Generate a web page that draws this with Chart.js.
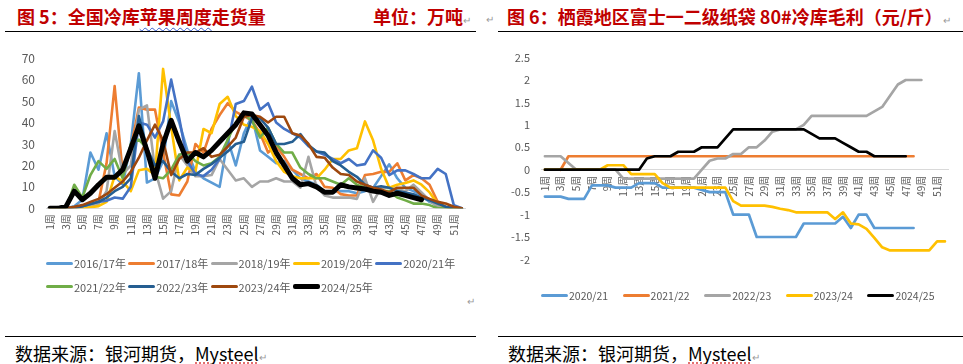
<!DOCTYPE html>
<html>
<head>
<meta charset="utf-8">
<script src="https://cdn.jsdelivr.net/npm/chart.js@4.4.1/dist/chart.umd.min.js"></script>
<style>
  body { margin:0; width:963px; height:364px; background:#fff; position:relative; overflow:hidden;
         font-family:"Noto Sans CJK SC", "Noto Sans", sans-serif; }
  .t { position:absolute; white-space:nowrap; line-height:18px; }
  .title { color:#c00000; font-weight:bold; font-size:18px; top:7px; }
  .src { font-size:18px; color:#000; top:344px; }
  .rule { position:absolute; height:1px; background:#000; }
  .mark { color:#9a9a9a; font-size:10px; font-weight:normal; }
  .wavy { text-decoration: underline wavy #3a5fd0; text-decoration-thickness:1px; text-underline-offset:3px; }
  .dots { text-decoration: underline dotted #e06060; text-underline-offset:2px; }
  .lg-line { position:absolute; }
  .lg-text { position:absolute; white-space:nowrap; color:#595959; line-height:14px; }
  canvas { position:absolute; }
</style>
</head>
<body>

<div class="t title" style="left:17px">图 5：全国冷库<span class="wavy">苹果周度</span>走货量</div>
<div class="t title" style="left:373px">单位：万吨<span class="mark">↵</span></div>
<div class="rule" style="left:5px; top:31px; width:471px"></div>

<div class="t mark" style="left:486px; top:10px">↵</div>
<div class="t title" style="left:507px">图 6：栖霞地区富士一二级纸袋 80#冷库毛利（元/斤）<span class="mark">↵</span></div>
<div class="rule" style="left:498px; top:31px; width:465px"></div>

<canvas id="volumeChart" width="480" height="202" style="left:0; top:40px"></canvas>
<canvas id="marginChart" width="483" height="237" style="left:480px; top:40px"></canvas>

<div class="t mark" style="left:467px; top:292px">↵</div>
<div class="rule" style="left:5px; top:336px; width:471px"></div>
<div class="rule" style="left:498px; top:336px; width:465px"></div>
<div class="t src" style="left:15px">数据来源：银河期货，<span class="dots">Mysteel</span><span class="mark">↵</span></div>
<div class="t src" style="left:508px">数据来源：银河期货，<span class="dots">Mysteel</span><span class="mark">↵</span></div>

<script>
// week categories 1周 .. 52周
const weeks = [];
for (let i = 1; i <= 52; i++) weeks.push(i + '周');

// ---- Chart 5: weekly cold-storage apple shipments (万吨) ----
const volumeNames = ['2016/17年', '2017/18年', '2018/19年', '2019/20年', '2020/21年',
                     '2021/22年', '2022/23年', '2023/24年', '2024/25年'];
const volumeColors = ['#5B9BD5', '#ED7D31', '#A5A5A5', '#FFC000', '#4472C4',
                      '#70AD47', '#255E91', '#9E480E', '#000000'];

const v1617 = [0,0,0,1,4,26,18,35,15,11,30,63,12,14,22,50,40,27,17,14,12,10,32,20,35,43,27,24,21,22,
               18,14,12.5,11,8,7.5,8,8,7,8,9.5,15,20.5,14,9.5,8,6,3,1.5,0.5,0,0];
const v1718 = [0,0,0,0.5,1,1.5,3,21,57,16,28,47,46,46,26,6.5,6,12.5,30,26,37,43.5,49,45,43,41,35,26,29,24,
               18,16,14,16,10,9.6,6.6,6,6,15.5,16,17,17,21,13,15.5,14,11,3,0.7,0,0];
const v1819 = [0,0,0,0,0.5,1,2,8,36,16,20,46,48,18,4.5,8,25,20,15,15,15.5,23,18,13,14,10,12.5,12.5,14,12.5,
               12.5,9.6,24,10,6,5,5,5,4.4,14,3,9.6,9.6,9,8,11,7.4,3.7,0.7,0,0,0];
const v1920 = [0,0,0,0,0,0.5,1,3,15,12.5,8,17.7,18.4,15.5,65,38,13,19,17,37,35,48.6,52,43,39,38,36,30,22,17,
               15,14,14,14,18,23,23,27,28,40.5,31.7,18.4,9.6,11,11.8,13,11,7.4,2.2,0.5,0,0];
const v2021 = [0,0,0,0.5,1,2,3,3.5,5,4.5,10,40,39,33,40.5,60,42,22,16,15,18,23,30,48.6,50,56.7,46,49,40,37,
               35,33,29,26.5,25,23,21,23,20,20.6,27,23.6,15.5,17.7,17.7,16,14,14,18.4,16,1.5,0];
const v2122 = [0,0,0,11,5,15.5,22,18.4,23,14,30,32,28,14.7,14,18,25,26,22,20,21,24,32,40,43.5,41,33,37.6,30,26,
               26,19,16,14,14,12.5,11,14,11,9.6,8.8,8,8,5,3.7,2.2,2.2,1.5,0,0,0,0];
const v2223 = [0,0,0,0,1,2,3,5,8,10,14,43,28,20,22,17,14,16,15.5,18.4,20.6,23.6,26.5,30,31,42,42,37.6,30,30,
               31,34.6,29.5,26.5,26,22,20,17,14.7,11,9.6,10.3,9.6,8,7.4,6.6,5,3.7,2.2,0.7,0,0];
const v2324 = [0,0,0,0.7,1.5,3,4.4,6.6,9.6,12.5,17,23.6,31.7,39,31.7,15.5,23,26,26,28,24,25,28.7,33,42.7,43.5,42.7,40,42.7,42.7,
               35,34,30,24,23.6,19,16,15.5,12.5,11,9.6,8.8,7.4,9.6,9.6,9.6,6,4.4,3,2.2,0.7,0];
const v2425 = [0,0,1,8,4,7,11,14.5,14.5,18,28,38.5,27,14,30,41,31,22,26,24,27,31,35,39,44.5,44,39,34,26,20,
               14,11,11.5,10,7.5,7.5,11,10,9.5,9,8,7.5,6,7,6,5,4,null,null,null,null,null];
const volumeSeries = [v1617, v1718, v1819, v1920, v2021, v2122, v2223, v2324, v2425];

// ---- Chart 6: Qixia Fuji grade 1-2 80# cold-storage margin (元/斤) ----
const marginNames = ['2020/21', '2021/22', '2022/23', '2023/24', '2024/25'];
const marginColors = ['#5B9BD5', '#ED7D31', '#A5A5A5', '#FFC000', '#000000'];

const m2021 = [-0.6,-0.6,-0.6,-0.65,-0.65,-0.65,-0.35,-0.35,-0.35,-0.4,-0.4,-0.4,-0.3,-0.3,-0.3,-0.4,-0.4,-0.4,-0.4,-0.4,
               -0.45,-0.5,-0.5,-0.5,-1,-1,-1,-1.5,-1.5,-1.5,-1.5,-1.5,-1.5,-1.2,-1.2,-1.2,-1.2,-1.2,-1.05,-1.3,
               -1,-1,-1.3,-1.3,-1.3,-1.3,-1.3,-1.3,null,null,null,null];
const m2122 = [null,null,0,0.3,0.3,0.3,0.3,0.3,0.3,0.3,0.3,0.3,0.3,0.3,0.3,0.3,0.3,0.3,0.3,0.3,
               0.3,0.3,0.3,0.3,0.3,0.3,0.3,0.3,0.3,0.3,0.3,0.3,0.3,0.3,0.3,0.3,0.3,0.3,0.3,0.3,
               0.3,0.3,0.3,0.3,0.3,0.3,0.3,0.3,null,null,null,null];
const m2223 = [0.3,0.3,0.3,0.15,0,0,0,0,0,0,-0.2,-0.2,-0.2,-0.2,-0.2,-0.2,-0.2,-0.2,-0.2,-0.2,
               0,0.2,0.25,0.25,0.35,0.35,0.5,0.5,0.65,0.85,0.9,0.9,0.9,1,1.2,1.2,1.2,1.2,1.2,1.2,
               1.2,1.2,1.3,1.4,1.65,1.9,2,2,2,null,null,null];
const m2324 = [0,0,0,0,0,0,0,0,0.1,0.1,0.1,-0.1,-0.1,-0.1,-0.1,-0.3,-0.4,-0.4,-0.4,-0.4,
               -0.4,-0.4,-0.4,-0.4,-0.7,-0.8,-0.8,-0.8,-0.8,-0.83,-0.87,-0.9,-0.95,-0.95,-0.95,-0.95,-0.95,-1.1,-0.95,-1.2,
               -1.22,-1.32,-1.52,-1.73,-1.8,-1.8,-1.8,-1.8,-1.8,-1.8,-1.6,-1.6];
const m2425 = [0,0,0,0,0,0,0,0,0,0,0,0,0,0.25,0.3,0.3,0.3,0.4,0.4,0.4,
               0.5,0.5,0.5,0.7,0.9,0.9,0.9,0.9,0.9,0.9,0.9,0.9,0.9,0.9,0.8,0.7,0.7,0.7,0.6,0.5,
               0.4,0.4,0.3,0.3,0.3,0.3,0.3,null,null,null,null,null];
const marginSeries = [m2021, m2122, m2223, m2324, m2425];

Chart.defaults.font.family = '"Noto Sans CJK SC", "Noto Sans", sans-serif';
Chart.defaults.color = '#595959';

function oddWeekLabel(value, index) {
  return index % 2 === 0 ? weeks[index] : '';
}

const baseOptions = {
  responsive: false,
  animation: false,
  events: [],
  plugins: { legend: { display: false }, tooltip: { enabled: false } },
  elements: {
    point: { radius: 0 },
    line: { tension: 0, borderJoinStyle: 'round', borderCapStyle: 'round' }
  }
};

// Chart 5
new Chart(document.getElementById('volumeChart'), {
  type: 'line',
  data: {
    labels: weeks,
    datasets: volumeSeries.map((d, i) => ({
      label: volumeNames[i],
      data: d,
      borderColor: volumeColors[i],
      backgroundColor: volumeColors[i],
      borderWidth: i === 8 ? 5 : 2.6,
      order: 9 - i   // later seasons on top, like Excel
    }))
  },
  options: {
    ...baseOptions,
    layout: { padding: { left: 4, right: 11.7, top: 9.5, bottom: 0 } },
    scales: {
      x: {
        offset: true,
        grid: { display: false, drawTicks: false },
        border: { color: '#d9d9d9', width: 1 },
        ticks: { autoSkip: false, minRotation: 90, maxRotation: 90, padding: 6,
                 font: { size: 10 }, callback: oddWeekLabel },
        afterFit: s => { s.height = 33.7; }
      },
      y: {
        min: 0, max: 70,
        grid: { display: false, drawTicks: false },
        border: { display: false },
        ticks: { stepSize: 10, padding: 11, font: { size: 12 } },
        afterFit: s => { s.width = 42; }
      }
    }
  }
});

// Chart 6
new Chart(document.getElementById('marginChart'), {
  type: 'line',
  data: {
    labels: weeks,
    datasets: marginSeries.map((d, i) => ({
      label: marginNames[i],
      data: d,
      borderColor: marginColors[i],
      backgroundColor: marginColors[i],
      borderWidth: 2.7,
      order: 5 - i
    }))
  },
  options: {
    ...baseOptions,
    layout: { padding: { left: 6, right: 6.5, top: 8, bottom: 7 } },
    scales: {
      x: {
        position: { y: 0 },
        offset: true,
        grid: { display: false, drawTicks: false },
        border: { color: '#d9d9d9', width: 1 },
        ticks: { autoSkip: false, minRotation: 90, maxRotation: 90, padding: 6,
                 font: { size: 10 }, callback: oddWeekLabel }
      },
      y: {
        min: -2, max: 2.5,
        grid: { display: false, drawTicks: false },
        border: { display: false },
        ticks: { stepSize: 0.5, padding: 11, font: { size: 11 },
                 callback: v => String(Math.round(v * 10) / 10) },
        afterFit: s => { s.width = 55; }
      }
    }
  }
});

// HTML legends (Excel-style grid placement)
function addLegend(names, colors, x0, pitch, perRow, y0, rowGap, fontSize, thickIdx) {
  names.forEach((name, i) => {
    const x = x0 + (i % perRow) * pitch;
    const cy = y0 + Math.floor(i / perRow) * rowGap;
    const h = i === thickIdx ? 4.5 : 3;
    const line = document.createElement('div');
    line.className = 'lg-line';
    line.style.cssText = `left:${x}px;top:${cy - h / 2}px;width:27px;height:${h}px;background:${colors[i]};border-radius:2px`;
    document.body.appendChild(line);
    const txt = document.createElement('div');
    txt.className = 'lg-text';
    txt.style.cssText = `left:${x + 28}px;top:${cy - 7}px;font-size:${fontSize}px`;
    txt.textContent = name;
    document.body.appendChild(txt);
  });
}
addLegend(volumeNames, volumeColors, 46, 82.3, 5, 263.3, 23.4, 11, 8);
addLegend(marginNames, marginColors, 541, 81.6, 5, 295.7, 0, 10.5, -1);
</script>
</body>
</html>
